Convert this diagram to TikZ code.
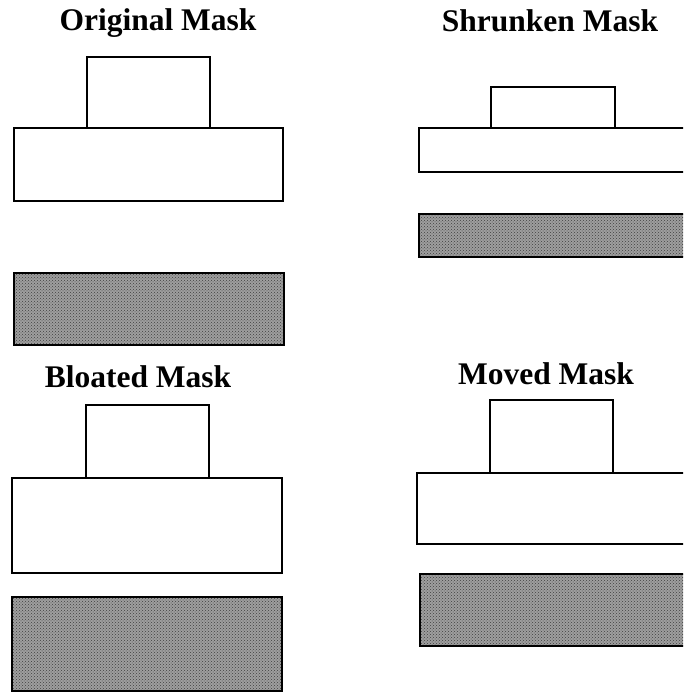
\documentclass[tikz,border=0pt]{standalone}
\usepackage{fontspec}
\setmainfont{Liberation Serif}
\usetikzlibrary{patterns}

\begin{document}
\begin{tikzpicture}[x=1pt, y=-1pt, line width=1.4pt,
  title/.style={anchor=base, inner sep=0pt, font=\fontsize{31.5}{36}\selectfont\bfseries},
  shade/.style={draw, preaction={fill=black!38}, pattern=crosshatch dots, pattern color=black!75}]
\useasboundingbox (0,0) rectangle (683,693);
\clip (0,0) rectangle (683,693);
% titles
\node[title] (TOrig) at (158,31) {Original Mask};
\node[title] (TShr) at (550,32) {Shrunken Mask};
\node[title] (TBlo) at (138,387) {Bloated Mask};
\node[title] (TMov) at (546,384) {Moved Mask};
% original
\draw (87,57) rectangle (210,128);
\draw (14,128) rectangle (283,201);
\draw[shade] (14,273) rectangle (284,345);
% shrunken
\draw (491,87) rectangle (615,128);
\draw (419,128) rectangle (700,172);
\draw[shade] (419,214) rectangle (700,257);
% bloated
\draw (86,405) rectangle (209,478);
\draw (12,478) rectangle (282,573);
\draw[shade] (12,597) rectangle (282,691);
% moved
\draw (490,400) rectangle (613,473);
\draw (417,473) rectangle (700,544);
\draw[shade] (420,574) rectangle (700,646);
\end{tikzpicture}
\end{document}
